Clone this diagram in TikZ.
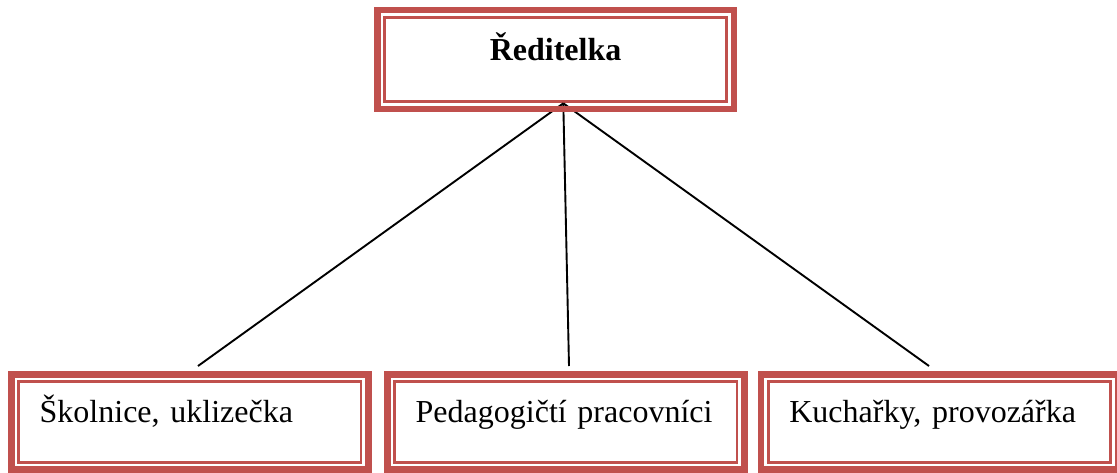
\documentclass[tikz,border=0pt]{standalone}
\usepackage{fontspec}
\setmainfont{Liberation Serif}
\usepackage{tikz}
\usetikzlibrary{calc, positioning}
\definecolor{boxred}{RGB}{192,80,77}
\frenchspacing
\tikzset{
	head/.style={rectangle,
		draw=boxred,
		line width=2.5pt,
		outer sep=0pt,
		minimum width=341.8pt,
		minimum height=84pt,
		inner xsep=21pt,
		inner ysep=0pt,
		text width=299.8pt,
		align=center,
		text height=22pt,
		text depth=21pt,
		font=\fontsize{32}{38}\selectfont\bfseries
		},
	staff/.style={rectangle,
		draw=boxred,
		line width=2.5pt,
		outer sep=0pt,
		minimum width=342.3pt,
		minimum height=80.6pt,
		inner xsep=21pt,
		inner ysep=0pt,
		text width=300.3pt,
		align=left,
		text height=22pt,
		text depth=22pt,
		font=\fontsize{32}{38}\selectfont
		},
	band/.style={draw=boxred,
		line width=6.7pt,
	},
	link/.style={draw, line width=1.9pt},
}
\begin{document}
\begin{tikzpicture}[x=1pt, y=-1pt]
   \useasboundingbox (0,0) rectangle (1117,472);

   \node[head] (boss) at (555.6,59.5) {Ředitelka};
   \node[staff] (school) at (189.85,422) {Školnice, uklizečka};
   \node[staff] (teachers) at (565.85,422) {Pedagogičtí pracovníci};
   \node[staff] (kitchen) at (939.5,422) {Kuchařky, provozářka};

   % ends of the links
   \coordinate (hub) at ([shift={(7.7,1.8)}]boss.south);
   \coordinate (schooltip) at ([shift={(8.15,-15.7)}]school.north);
   \coordinate (teacherstip) at ([shift={(3.15,-15.7)}]teachers.north);
   \coordinate (kitchentip) at ([shift={(-10.5,-15.7)}]kitchen.north);

   \draw[link] (hub) -- (schooltip);
   \draw[link] (hub) -- (teacherstip);
   \draw[link] (hub) -- (kitchentip);

   \foreach \n in {boss,school,teachers,kitchen}
   	\draw[band] ([shift={(-7.4,-7.4)}]\n.north west) rectangle ([shift={(7.4,7.4)}]\n.south east);
\end{tikzpicture}
\end{document}
